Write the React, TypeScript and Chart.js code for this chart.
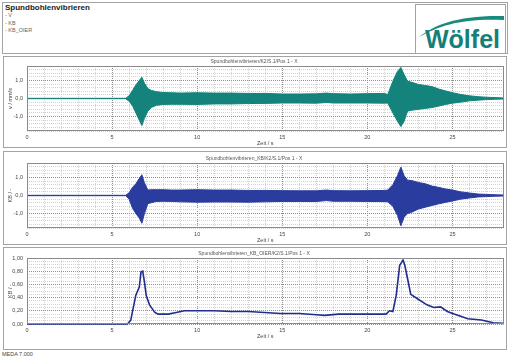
import React, { useEffect, useRef } from "react";
import { Chart, registerables } from "chart.js";

Chart.register(...registerables);

const FONT = "'Liberation Sans', Arial, sans-serif";

// ---- data ----
const HEADER_TITLE = "Spundbohlenvibrieren";
const HEADER_ITEMS = ["- V", "- KB", "- KB_OIER"];
const PANEL_TITLES = [
  "Spundbohlenvibrieren/K2/S.1/Pos 1 - X",
  "Spundbohlenvibrieren_KB/K2/S.1/Pos 1 - X",
  "Spundbohlenvibrieren_KB_OIER/K2/S.1/Pos 1 - X",
];
const Y_TITLES = ["v / mm/s", "KB / -", "KB / -"];
const X_TITLE = "Zeit / s";
const X_TICK_LABELS = ["0", "5", "10", "15", "20", "25"];
const Y_TICK_LABELS_AMP = ["1,0", "0,0", "-1,0"];
const Y_TICK_LABELS_OIER = ["0,00", "0,20", "0,40", "0,60", "0,80", "1,00"];

// envelope sample times (s) for the oscillating signals
const TIME_ENV = [
  0, 5.8, 6.0, 6.2, 6.4, 6.6, 6.75, 6.9, 7.1, 7.3, 7.6, 8.0, 8.5, 9, 10, 11, 12, 13, 14, 15,
  16, 17, 17.6, 18, 19, 20, 21, 21.2, 21.5, 21.77, 21.97, 22.16, 22.36, 22.6, 23.0, 23.4,
  23.8, 24.2, 24.6, 25.0, 25.5, 26.0, 26.5, 27.0, 27.5, 28,
];
// V (mm/s) upper / lower envelope
const V_UPPER = [
  0.01, 0.01, 0.15, 0.45, 0.75, 1.0, 1.18, 0.85, 0.55, 0.45, 0.38, 0.33, 0.32, 0.3, 0.32, 0.3,
  0.3, 0.28, 0.28, 0.25, 0.25, 0.26, 0.3, 0.27, 0.25, 0.27, 0.28, 0.22, 0.96, 1.5, 1.72, 1.33,
  0.96, 0.9, 0.78, 0.72, 0.66, 0.52, 0.42, 0.32, 0.22, 0.15, 0.1, 0.07, 0.05, 0.03,
];
const V_LOWER = [
  -0.01, -0.01, -0.15, -0.4, -0.8, -1.2, -1.5, -1.1, -0.7, -0.5, -0.38, -0.33, -0.32, -0.32,
  -0.33, -0.3, -0.3, -0.28, -0.27, -0.25, -0.25, -0.26, -0.22, -0.25, -0.25, -0.25, -0.26,
  -0.25, -0.8, -1.26, -1.55, -1.26, -0.7, -0.65, -0.6, -0.55, -0.5, -0.42, -0.33, -0.26, -0.2,
  -0.13, -0.09, -0.06, -0.04, -0.03,
];
// KB (-) upper / lower envelope
const KB_UPPER = [
  0.01, 0.01, 0.15, 0.45, 0.65, 0.95, 1.15, 0.7, 0.3, 0.32, 0.32, 0.32, 0.3, 0.3, 0.32, 0.3,
  0.3, 0.28, 0.28, 0.27, 0.26, 0.26, 0.3, 0.27, 0.26, 0.27, 0.28, 0.3, 0.6, 1.1, 1.57, 1.1,
  0.85, 0.83, 0.72, 0.65, 0.52, 0.45, 0.36, 0.3, 0.2, 0.14, 0.08, 0.06, 0.04, 0.03,
];
const KB_LOWER = [
  -0.01, -0.01, -0.2, -0.7, -1.0, -1.25, -1.54, -1.0, -0.45, -0.4, -0.33, -0.32, -0.33, -0.35,
  -0.37, -0.36, -0.36, -0.37, -0.35, -0.33, -0.33, -0.33, -0.28, -0.32, -0.32, -0.33, -0.34,
  -0.35, -0.6, -1.1, -1.67, -1.2, -1.0, -0.93, -0.75, -0.65, -0.55, -0.46, -0.38, -0.3, -0.2,
  -0.14, -0.08, -0.06, -0.04, -0.03,
];
// KB_OIER (-) line
const TIME_OIER = [
  0, 5.9, 6.1, 6.2, 6.4, 6.6, 6.7, 6.8, 6.9, 7.0, 7.2, 7.5, 7.7, 8.3, 8.7, 9.25, 10, 11, 12,
  13, 14.9, 16, 17, 17.5, 18.3, 19.9, 21.1, 21.3, 21.5, 21.7, 21.9, 22.1, 22.2, 22.4, 22.55,
  22.9, 23.5, 23.9, 24.3, 24.7, 25.1, 25.9, 26.7, 27.4, 28,
];
const KB_OIER = [
  0.0, 0.0, 0.06, 0.19, 0.44, 0.56, 0.79, 0.8, 0.64, 0.44, 0.29, 0.18, 0.15, 0.15, 0.17, 0.2,
  0.2, 0.2, 0.19, 0.19, 0.16, 0.16, 0.14, 0.13, 0.15, 0.15, 0.15, 0.2, 0.19, 0.44, 0.89, 0.97,
  0.89, 0.64, 0.45, 0.39, 0.29, 0.25, 0.26, 0.19, 0.15, 0.08, 0.06, 0.02, 0.01,
];

const TEAL = "#13837b";
const BLUE = "#2a3c9e";
const DARKBLUE = "#1f2d8e";

const framePlugin = {
  id: "frame",
  afterDraw(chart: any) {
    const { ctx, chartArea: a } = chart;
    ctx.save();
    ctx.strokeStyle = "#8a8a8a";
    ctx.lineWidth = 1;
    ctx.strokeRect(Math.round(a.left) + 0.5, Math.round(a.top) + 0.5, Math.round(a.width) - 1, Math.round(a.height) - 1);
    ctx.restore();
  },
};

const tickFont = { family: FONT, size: 5.5 };

function fmtAmp(v: number) {
  return (Math.round(v * 10) / 10).toFixed(1).replace(".", ",").replace("-0,0", "0,0");
}
function fmtOier(v: number) {
  return (Math.round(v * 100) / 100).toFixed(2).replace(".", ",");
}

function buildOptions(idx: number, yMin: number, yMax: number, yStep: number, fmt: (v: number) => string, labels: string[]) {
  return {
    responsive: false,
    animation: false,
    layout: { padding: { left: 0, right: 3, top: 0, bottom: 0 } },
    plugins: {
      legend: { display: false },
      tooltip: { enabled: false },
      title: {
        display: true,
        text: PANEL_TITLES[idx],
        color: "#555",
        font: { family: FONT, size: 5, lineHeight: 1, weight: "normal" },
        padding: { top: 2, bottom: 2 },
      },
    },
    scales: {
      x: {
        type: "linear",
        min: 0,
        max: 28,
        ticks: {
          stepSize: 1,
          autoSkip: false,
          maxRotation: 0,
          padding: 3.5,
          color: "#444",
          font: tickFont,
          callback: (v: any) => (X_TICK_LABELS.includes(String(v)) ? String(v) : ""),
        },
        grid: {
          drawTicks: false,
          lineWidth: 1,
          color: (c: any) => (c.tick && X_TICK_LABELS.includes(String(c.tick.value)) ? "#8f8f8f" : "#d2d2d2"),
        },
        border: { display: false, dash: [1, 1] },
        title: { display: true, text: X_TITLE, color: "#444", font: tickFont, padding: { top: 0, bottom: 0 } },
        afterFit: (s: any) => {
          s.height = 16;
        },
      },
      y: {
        type: "linear",
        min: yMin,
        max: yMax,
        ticks: {
          stepSize: yStep,
          autoSkip: false,
          padding: 4,
          color: "#444",
          font: tickFont,
          callback: (v: any) => {
            const s = fmt(Number(v));
            return labels.includes(s) && Math.abs(Number(v) * 5 - Math.round(Number(v) * 5)) < 1e-6 ? s : "";
          },
        },
        grid: {
          drawTicks: false,
          lineWidth: 1,
          color: (c: any) => {
            if (!c.tick) return "#d2d2d2";
            const s = fmt(c.tick.value);
            const major = labels.includes(s) && Math.abs(c.tick.value * 5 - Math.round(c.tick.value * 5)) < 1e-6;
            return major ? "#8f8f8f" : "#d2d2d2";
          },
        },
        border: { display: false, dash: [1, 1] },
        title: { display: true, text: Y_TITLES[idx], color: "#444", font: tickFont, padding: { top: 3, bottom: 0 } },
        afterFit: (s: any) => {
          s.width = 23;
        },
      },
    },
  };
}

function envelopeConfig(idx: number, upper: number[], lower: number[], color: string) {
  return {
    type: "line",
    data: {
      datasets: [
        {
          data: TIME_ENV.map((t, i) => ({ x: t, y: upper[i] })),
          borderColor: color,
          backgroundColor: color,
          borderWidth: 1,
          pointRadius: 0,
          fill: "+1",
          tension: 0,
        },
        {
          data: TIME_ENV.map((t, i) => ({ x: t, y: lower[i] })),
          borderColor: color,
          backgroundColor: color,
          borderWidth: 1,
          pointRadius: 0,
          fill: false,
          tension: 0,
        },
      ],
    },
    options: buildOptions(idx, -1.8, 1.8, 0.2, fmtAmp, Y_TICK_LABELS_AMP),
    plugins: [framePlugin],
  };
}

function oierConfig() {
  return {
    type: "line",
    data: {
      datasets: [
        {
          data: TIME_OIER.map((t, i) => ({ x: t, y: KB_OIER[i] })),
          borderColor: DARKBLUE,
          borderWidth: 1.6,
          pointRadius: 0,
          fill: false,
          tension: 0,
          clip: false,
        },
      ],
    },
    options: buildOptions(2, 0, 1, 0.05, fmtOier, Y_TICK_LABELS_OIER),
    plugins: [framePlugin],
  };
}

function ChartCanvas({ make, left, top, width, height }: any) {
  const ref = useRef<HTMLCanvasElement | null>(null);
  useEffect(() => {
    const chart = new Chart(ref.current as HTMLCanvasElement, make() as any);
    return () => chart.destroy();
  }, []);
  return (
    <canvas
      ref={ref}
      width={width}
      height={height}
      style={{ position: "absolute", left, top, width, height }}
    />
  );
}

const box = (left: number, top: number, width: number, height: number) => ({
  position: "absolute" as const,
  left,
  top,
  width,
  height,
  border: "1px solid #a3a3a3",
  boxSizing: "border-box" as const,
  background: "#fff",
});

export default function App() {
  return (
    <div
      style={{
        position: "fixed",
        left: 0,
        top: 0,
        width: 510,
        height: 360,
        background: "#fff",
        fontFamily: FONT,
        overflow: "hidden",
      }}
    >
      {/* header */}
      <div style={box(2, 2, 506, 52)} />
      <div style={{ position: "absolute", left: 5, top: 3, fontSize: 8, fontWeight: "bold", color: "#222" }}>
        {HEADER_TITLE}
      </div>
      {HEADER_ITEMS.map((t, i) => (
        <div key={t} style={{ position: "absolute", left: 5, top: 12 + i * 7.5, fontSize: 5.5, color: "#666" }}>
          {t}
        </div>
      ))}
      <div style={box(415, 4, 91, 50)}>
        <svg width={89} height={48} style={{ position: "absolute", left: 0, top: 0 }}>
          <path d="M3,32 C18,20 42,10 88,11 L88,15 C48,13 24,20 3,32 Z" fill="#1a8a7d" />
          <text
            x={84}
            y={43}
            textAnchor="end"
            fontFamily={FONT}
            fontWeight="bold"
            fontSize={25}
            fill="#14807a"
          >
            Wölfel
          </text>
        </svg>
      </div>

      {/* panels */}
      <div style={box(3, 56, 504, 92)} />
      <div style={box(3, 151, 504, 94)} />
      <div style={box(3, 247, 504, 103)} />

      <ChartCanvas make={() => envelopeConfig(0, V_UPPER, V_LOWER, TEAL)} left={4} top={57} width={503} height={90} />
      <ChartCanvas make={() => envelopeConfig(1, KB_UPPER, KB_LOWER, BLUE)} left={4} top={154} width={503} height={90} />
      <ChartCanvas make={() => oierConfig()} left={4} top={249} width={503} height={91} />

      <div style={{ position: "absolute", left: 2, top: 351, fontSize: 5.5, color: "#444" }}>MEDA 7.000</div>
    </div>
  );
}
